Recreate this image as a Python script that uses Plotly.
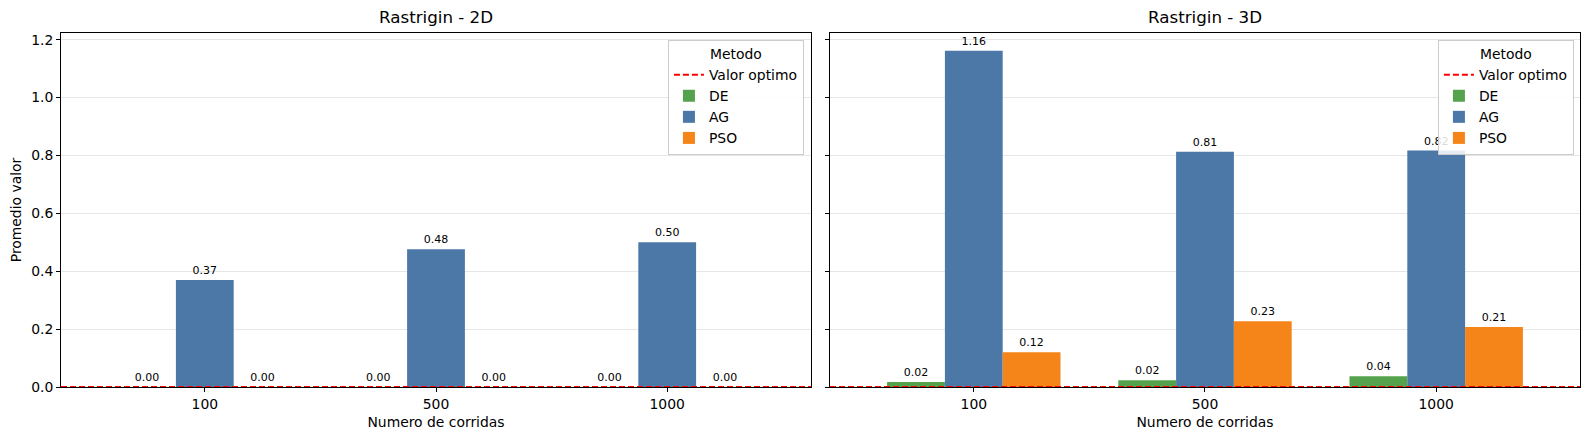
import plotly.graph_objects as go
from plotly.subplots import make_subplots

# -------------------------------
# DATA
# -------------------------------
corridas = ["100", "500", "1000"]

de_2d = [0.0, 0.0, 0.0]
ag_2d = [0.37, 0.476, 0.50]
pso_2d = [0.0, 0.0, 0.0]

de_3d = [0.017, 0.023, 0.037]
ag_3d = [1.162, 0.813, 0.817]
pso_3d = [0.12, 0.227, 0.207]

optimo = 0.0

colores = {"DE": "#54A24B", "AG": "#4C78A8", "PSO": "#F58518"}
font = "DejaVu Sans"
x_rango = [-0.622, 2.622]

# -------------------------------
# SUBPLOTS
# -------------------------------
fig = make_subplots(
    rows=1, cols=2, shared_yaxes=True, horizontal_spacing=0.0125,
    subplot_titles=("Rastrigin - 2D", "Rastrigin - 3D")
)

paneles = [
    (1, "legend", {"DE": de_2d, "AG": ag_2d, "PSO": pso_2d}),
    (2, "legend2", {"DE": de_3d, "AG": ag_3d, "PSO": pso_3d}),
]

for col, leg, series in paneles:
    for metodo, vals in series.items():
        fig.add_trace(
            go.Bar(
                x=[0, 1, 2], y=vals, name=metodo, legend=leg, legendrank=2,
                marker=dict(color=colores[metodo], line=dict(width=0)),
                text=["%.2f" % v for v in vals], textposition="outside",
                textfont=dict(size=11, color="black", family=font),
                cliponaxis=False,
            ),
            row=1, col=col
        )
    # linea del valor optimo (encima de las barras)
    fig.add_trace(
        go.Scatter(
            x=x_rango, y=[optimo, optimo], mode="lines",
            name="Valor optimo", legend=leg, legendrank=1,
            line=dict(color="red", dash="6px,3px", width=2),
            cliponaxis=False,
        ),
        row=1, col=col
    )

# -------------------------------
# AXES
# -------------------------------
for col in (1, 2):
    fig.update_xaxes(
        range=x_rango, tickvals=[0, 1, 2], ticktext=corridas,
        title_text="Numero de corridas", title_standoff=6,
        showline=True, linecolor="black", mirror=True, linewidth=1,
        ticks="outside", ticklen=4, tickcolor="black",
        showgrid=False, zeroline=False, layer="below traces",
        tickfont=dict(size=13.9, color="black"),
        title_font=dict(size=13.9, color="black"),
        row=1, col=col
    )
    fig.update_yaxes(
        range=[0, 1.223], tickvals=[0, 0.2, 0.4, 0.6, 0.8, 1.0, 1.2],
        tickformat=".1f",
        showline=True, linecolor="black", mirror=True, linewidth=1,
        ticks="outside", ticklen=4, tickcolor="black",
        showgrid=True, gridcolor="#e6e6e6", gridwidth=1, zeroline=False,
        layer="below traces",
        tickfont=dict(size=13.9, color="black"),
        row=1, col=col
    )
fig.update_yaxes(title_text="Promedio valor", title_font=dict(size=13.9, color="black"),
                 title_standoff=11, row=1, col=1)
fig.update_yaxes(showticklabels=False, row=1, col=2)

for ann in fig.layout.annotations:
    ann.font = dict(size=16.7, color="black", family=font)
    ann.yshift = 4

legend_style = dict(
    title=dict(text="Metodo", side="top center", font=dict(size=13.9, color="black")),
    bgcolor="rgba(255,255,255,0.85)", bordercolor="#cccccc", borderwidth=1,
    font=dict(size=13.9, color="black"), xanchor="right", yanchor="top",
    tracegroupgap=0, itemwidth=30, traceorder="normal",
)

# -------------------------------
# LAYOUT
# -------------------------------
fig.update_layout(
    width=1573, height=424,
    margin=dict(l=53, r=1, t=25, b=45),
    paper_bgcolor="white", plot_bgcolor="white",
    font=dict(family=font, color="black"),
    barmode="group", bargap=0.25, bargroupgap=0,
    legend=dict(x=0.4891, y=0.98, **legend_style),
    legend2=dict(x=0.996, y=0.98, **legend_style),
)

fig.write_html("out.html")
